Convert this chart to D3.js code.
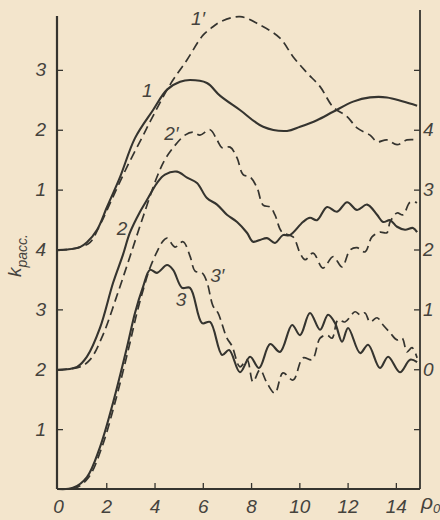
<!DOCTYPE html>
<html><head><meta charset="utf-8">
<script src="https://cdn.jsdelivr.net/npm/d3@7"></script>
<style>
html,body{margin:0;padding:0;background:#f3e5cc;}
svg{display:block;}
text{font-family:"Liberation Sans Narrow","Liberation Sans",sans-serif;font-style:italic;fill:#45433d;}
</style></head>
<body>
<script>
// ---- data (x = rho0, v = offset k value in left-axis units) ----
const c1x  = [0,0.4,0.91,1.2,1.62,2.03,2.57,3.19,3.94,4.52,5.06,5.47,6.17,6.71,7.54,8.50,9.49,10.03,10.73,11.40,12.23,12.93,13.63,14.30,14.88];
const c1v  = [3.99,4.0,4.04,4.12,4.33,4.71,5.21,5.86,6.33,6.67,6.80,6.83,6.78,6.57,6.33,6.05,5.98,6.05,6.16,6.30,6.47,6.54,6.54,6.47,6.40];
const c1dx = [0,0.4,0.91,1.33,1.74,2.28,2.86,3.52,3.81,4.64,5.35,6.01,6.42,6.71,7.54,8.37,9.20,9.74,10.32,10.86,11.40,11.98,12.39,12.93,13.22,13.63,14.05,14.46,14.88];
const c1dv = [3.99,4.0,4.04,4.12,4.41,4.88,5.38,5.90,6.13,6.75,7.17,7.58,7.72,7.80,7.89,7.75,7.53,7.22,6.95,6.72,6.38,6.22,6.03,5.91,5.80,5.83,5.75,5.83,5.83];
const c2x  = [0,0.79,1.20,1.74,2.28,2.69,2.98,3.40,3.69,4.10,4.43,4.93,5.35,5.76,6.17,6.59,7.00,7.42,7.83,8.08,8.37,8.66,8.99,9.32,9.61,10.15,10.44,10.73,11.15,11.56,11.98,12.39,12.81,13.22,13.47,13.76,14.05,14.38,14.71,14.88];
const c2v  = [1.99,2.04,2.21,2.69,3.44,3.91,4.28,4.63,4.83,5.11,5.25,5.30,5.20,5.11,4.86,4.75,4.58,4.46,4.28,4.13,4.16,4.19,4.11,4.24,4.24,4.46,4.53,4.49,4.71,4.63,4.79,4.66,4.75,4.58,4.46,4.49,4.38,4.33,4.36,4.29];
const c2dx = [0,0.91,1.33,1.86,2.45,2.98,3.52,4.10,4.43,4.77,5.26,5.59,5.88,6.30,6.59,6.80,7.13,7.42,7.67,7.96,8.25,8.50,8.79,8.99,9.28,9.74,10.03,10.24,10.57,10.98,11.40,11.77,12.10,12.39,12.72,13.01,13.34,13.63,13.76,14.05,14.30,14.59,14.88];
const c2dv = [1.99,2.04,2.16,2.57,3.24,3.88,4.54,5.21,5.50,5.70,5.91,5.96,5.91,6.00,5.83,5.70,5.71,5.53,5.25,5.21,5.03,4.74,4.71,4.58,4.29,4.21,3.94,3.83,3.94,3.69,3.88,3.71,3.99,4.03,3.96,4.21,4.29,4.28,4.46,4.61,4.58,4.79,4.78];
const c3x  = [0,0.62,1.20,1.74,2.28,2.86,3.19,3.52,3.81,4.10,4.52,4.77,5.14,5.47,5.97,6.30,6.80,7.09,7.54,7.96,8.33,8.79,9.20,9.70,10.03,10.44,10.86,11.19,11.48,11.77,12.02,12.52,12.85,13.34,13.68,14.17,14.59,14.88];
const c3v  = [0,0.02,0.20,0.70,1.44,2.37,2.94,3.37,3.66,3.61,3.74,3.66,3.36,3.36,2.77,2.79,2.24,2.32,1.95,2.21,2.02,2.42,2.29,2.74,2.57,2.94,2.66,2.91,2.77,2.46,2.69,2.27,2.41,2.02,2.21,1.95,2.16,2.12];
const c3dx = [0,0.75,1.28,1.82,2.36,2.94,3.27,3.56,3.81,4.10,4.35,4.52,4.85,5.18,5.47,5.68,5.97,6.17,6.42,6.63,7.00,7.21,7.54,7.83,8.08,8.37,8.66,8.99,9.32,9.74,10.15,10.53,10.86,11.15,11.36,11.60,11.89,12.31,12.52,12.72,12.93,13.22,13.47,13.76,14.05,14.26,14.46,14.67,14.88];
const c3dv = [0,0.02,0.20,0.70,1.44,2.37,2.94,3.37,3.69,3.96,4.14,4.19,4.04,4.13,3.89,3.64,3.61,3.46,3.06,2.94,2.52,2.39,2.04,2.16,1.79,1.99,1.77,1.60,1.94,1.82,2.19,2.16,2.52,2.57,2.52,2.82,2.79,2.96,2.91,2.94,2.79,2.86,2.74,2.61,2.49,2.52,2.29,2.36,2.19];

const xTicks = [0,2,4,6,8,10,12,14];
const leftTicks = [1,2,3,4,5,6,7];
const leftLabels = ["1","2","3","4","1","2","3"];
const rightTicks = [1,2,3,4,5,6,7];
const rightLabels = ["","0","1","2","3","4",""];
const curveLabels = [
  {t:"1", x:3.7, v:6.55}, {t:"1′", x:5.8, v:7.75},
  {t:"2′", x:4.7, v:5.83}, {t:"2", x:2.65, v:4.25},
  {t:"3", x:5.1, v:3.05}, {t:"3′", x:6.6, v:3.45}
];

// ---- drawing ----
const W = 440, H = 520;
const svg = d3.select("body").append("svg").attr("width", W).attr("height", H);
const x = d3.scaleLinear().domain([0,15]).range([58,420]);
const y = d3.scaleLinear().domain([0,8]).range([489,10]);
const ink = "#35342f";

// axes
const gl = svg.append("g").attr("transform","translate(57,0)")
  .call(d3.axisLeft(y).tickValues(leftTicks).tickSize(-6).tickPadding(11)
        .tickFormat((d,i)=>leftLabels[i]));
const gr = svg.append("g").attr("transform","translate(420,0)")
  .call(d3.axisRight(y).tickValues(rightTicks).tickSize(-6).tickPadding(3)
        .tickFormat((d,i)=>rightLabels[i]));
const gb = svg.append("g").attr("transform","translate(0,489)")
  .call(d3.axisBottom(x).tickValues(xTicks).tickSize(-6).tickPadding(11));
[gl,gr,gb].forEach(g=>{
  g.select(".domain").remove();
  g.selectAll(".tick line").attr("stroke",ink).attr("stroke-width",1.3);
  g.selectAll(".tick text").attr("fill","#45433d").style("font-size","19px")
    .style("font-family",'"Liberation Sans Narrow","Liberation Sans",sans-serif').style("font-style","italic");
});
gb.select(".tick line").remove();
// axis lines
svg.append("line").attr("x1",57).attr("x2",57).attr("y1",y(7.9)).attr("y2",y(0)).attr("stroke",ink).attr("stroke-width",2.2);
svg.append("line").attr("x1",420).attr("x2",420).attr("y1",y(8)).attr("y2",y(0)).attr("stroke",ink).attr("stroke-width",1.8);
svg.append("line").attr("x1",57).attr("x2",420).attr("y1",y(0)).attr("y2",y(0)).attr("stroke",ink).attr("stroke-width",1.8);

// curves
const line = d3.line().x(d=>x(d[0])).y(d=>y(d[1])).curve(d3.curveCatmullRom.alpha(0.5));
const series = [
  [c1x,c1v,false],[c1dx,c1dv,true],
  [c2x,c2v,false],[c2dx,c2dv,true],
  [c3x,c3v,false],[c3dx,c3dv,true]
];
series.forEach(([xs,vs,dash])=>{
  svg.append("path").datum(xs.map((d,i)=>[d,vs[i]]))
    .attr("d",line).attr("fill","none").attr("stroke",ink)
    .attr("stroke-width",dash?1.7:2.1)
    .attr("stroke-dasharray",dash?"9,5":null)
    .attr("stroke-linejoin","round");
});

// curve labels
svg.selectAll("text.cl").data(curveLabels).enter().append("text")
  .attr("class","cl").attr("x",d=>x(d.x)).attr("y",d=>y(d.v))
  .attr("text-anchor","middle").style("font-size","19px").text(d=>d.t);

// y label
const yl = svg.append("text").attr("transform","translate(21,277) rotate(-90)").style("font-size","19px");
yl.append("tspan").text("k");
yl.append("tspan").attr("dy",6).style("font-size","14px").text("расс.");
// x label
const xl = svg.append("text").attr("x",421).attr("y",509).style("font-size","21px");
xl.append("tspan").text("ρ");
xl.append("tspan").attr("dy",4).style("font-size","13px").text("0");
</script>
</body></html>
